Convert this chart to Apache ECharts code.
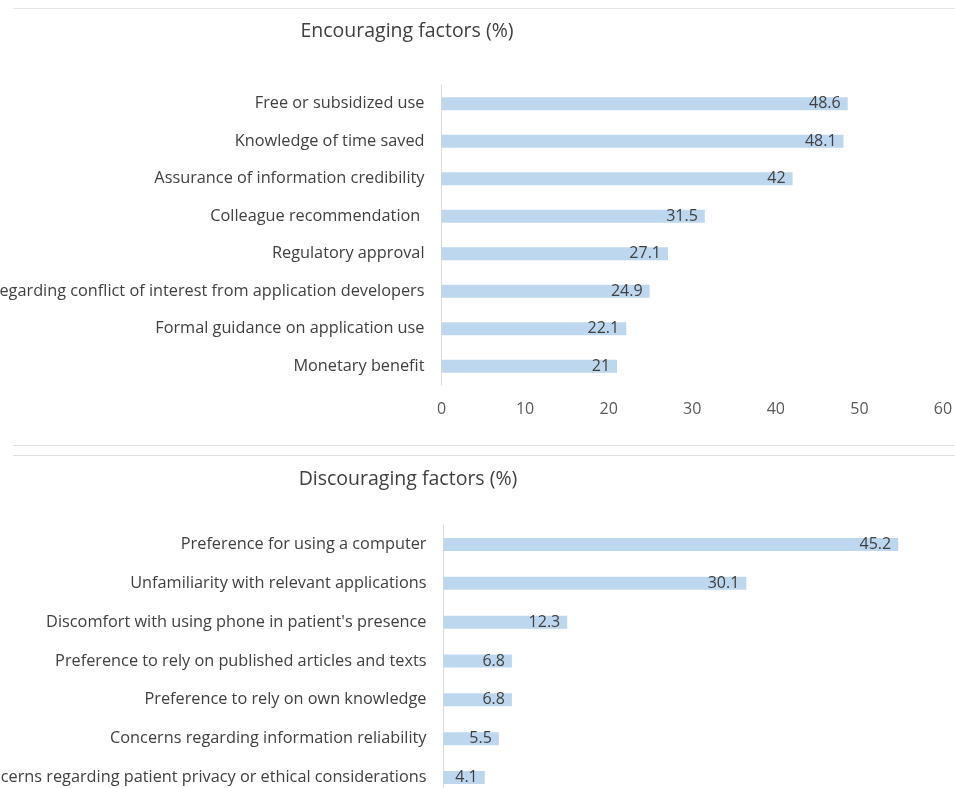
<!DOCTYPE html>
<html><head><meta charset="utf-8">
<script src="https://cdn.jsdelivr.net/npm/echarts@6/dist/echarts.min.js"></script>
<style>html,body{margin:0;padding:0;background:#fff}#c{width:955px;height:788px}</style>
</head><body><div id="c"></div>
<script>
const encTitle = 'Encouraging factors (%)';
const encCategories = ['Free or subsidized use','Knowledge of time saved','Assurance of information credibility','Colleague recommendation ','Regulatory approval','Concerns regarding conflict of interest from application developers','Formal guidance on application use','Monetary benefit'];
const encValues = [48.6, 48.1, 42, 31.5, 27.1, 24.9, 22.1, 21];
const encTicks = [0, 10, 20, 30, 40, 50, 60];

const disTitle = 'Discouraging factors (%)';
const disCategories = ['Preference for using a computer','Unfamiliarity with relevant applications',"Discomfort with using phone in patient's presence",'Preference to rely on published articles and texts','Preference to rely on own knowledge','Concerns regarding information reliability','Concerns regarding patient privacy or ethical considerations'];
const disValues = [45.2, 30.1, 12.3, 6.8, 6.8, 5.5, 4.1];
const disTicks = [0, 10, 20, 30, 40, 50];

const FONT = '"Open Sans", sans-serif';
const chart = echarts.init(document.getElementById('c'));
const labelStyle = {show: true, position: 'insideRight', distance: 7, color: '#404040', fontSize: 16, fontFamily: FONT, formatter: p => String(p.value)};
const cat = (idx, data) => ({
  type: 'category', gridIndex: idx, data: data, inverse: true,
  axisLine: {show: true, lineStyle: {color: '#d9d9d9', width: 1}},
  axisTick: {show: false},
  axisLabel: {color: '#404040', fontSize: 16.3, fontFamily: FONT, margin: 17}
});
const val = (idx, ticks) => ({
  type: 'value', gridIndex: idx, min: ticks[0], max: ticks[ticks.length-1], interval: ticks[1]-ticks[0],
  splitLine: {show: false}, axisLine: {show: false}, axisTick: {show: false},
  axisLabel: {color: '#595959', fontSize: 16, fontFamily: FONT, margin: 16}
});
chart.setOption({
  animation: false,
  title: [
    {text: encTitle, left: 402, top: 16, textAlign: 'center', textStyle: {fontFamily: FONT, fontSize: 19.5, fontWeight: 'normal', color: '#404040'}},
    {text: disTitle, left: 403, top: 464, textAlign: 'center', textStyle: {fontFamily: FONT, fontSize: 19.5, fontWeight: 'normal', color: '#404040'}}
  ],
  graphic: [
    {type: 'line', shape: {x1: 13, y1: 8.5, x2: 955, y2: 8.5}, style: {stroke: '#e6e6e6', lineWidth: 1}},
    {type: 'line', shape: {x1: 13, y1: 445.5, x2: 955, y2: 445.5}, style: {stroke: '#e0e0e0', lineWidth: 1}},
    {type: 'line', shape: {x1: 13, y1: 455.5, x2: 955, y2: 455.5}, style: {stroke: '#e0e0e0', lineWidth: 1}}
  ],
  grid: [
    {left: 441.5, width: 501.5, top: 85, height: 300, containLabel: false, outerBoundsMode: 'none'},
    {left: 443.5, width: 503, top: 525, height: 272, containLabel: false, outerBoundsMode: 'none'}
  ],
  xAxis: [val(0, encTicks), val(1, disTicks)],
  yAxis: [cat(0, encCategories), cat(1, disCategories)],
  series: [
    {type: 'bar', xAxisIndex: 0, yAxisIndex: 0, data: encValues, barWidth: 13, itemStyle: {color: '#bdd7ee'}, label: labelStyle},
    {type: 'bar', xAxisIndex: 1, yAxisIndex: 1, data: disValues, barWidth: 13, itemStyle: {color: '#bdd7ee'}, label: labelStyle}
  ]
});
</script></body></html>
